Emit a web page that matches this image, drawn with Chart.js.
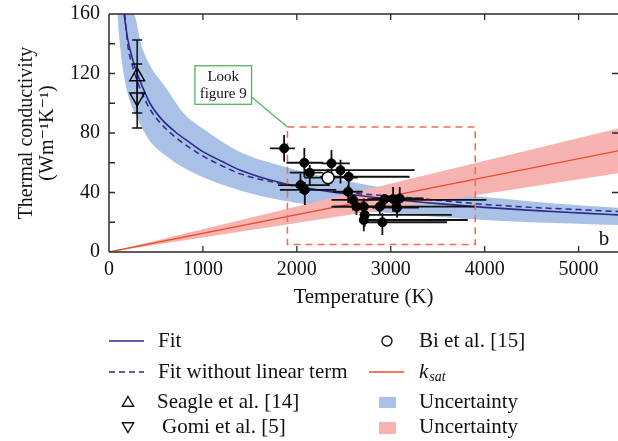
<!DOCTYPE html>
<html lang="en">
<head>
<meta charset="UTF-8">
<title>Thermal conductivity</title>
<script src="https://cdn.jsdelivr.net/npm/chart.js"></script>
<style>
  html, body { margin: 0; padding: 0; background: #fff; }
</style>
</head>
<body>
<canvas id="kChart" width="618" height="441"></canvas>
<script>
// fit (solid) and fit without linear term (dashed)
const fitT = [160, 200, 250, 300, 350, 436, 550, 700, 850, 1000, 1200, 1400, 1800, 2200, 2600, 3000, 3500, 4000, 4500, 5000, 5500];
const fitK = [160, 143, 130, 120, 112, 100, 90, 81, 74, 67.5, 61, 55, 47, 42, 38.5, 35.5, 32.5, 30, 28, 26.3, 24.7];
const dashT = [168, 200, 250, 300, 350, 436, 550, 700, 850, 1000, 1200, 1400, 1800, 2200, 2600, 3000, 3500, 4000, 4500, 5000, 5500];
const dashK = [160, 139, 125, 115, 107, 96, 86.5, 77.5, 70.5, 64.5, 58, 52.5, 46.3, 42, 39.5, 37.5, 34.8, 32, 30, 28.5, 27];

// fit uncertainty band edges (upper edge runs along the top of the frame below T = 260)
const bandLowT = [88, 120, 170, 230, 308, 430, 600, 800, 1128, 1500, 1820, 2500, 3000, 3500, 4000, 4500, 5000, 5500];
const bandLowK = [160, 137, 115, 100, 89, 75, 65, 56.5, 47, 39.5, 35, 29, 26, 23.5, 21.5, 20, 19, 18];
const bandHighT = [88, 260, 350, 450, 600, 800, 1000, 1400, 1800, 2500, 3000, 3500, 4000, 4500, 5000, 5500];
const bandHighK = [160, 160, 138, 124, 111, 93, 83, 67, 58.5, 48, 42.5, 39.5, 37, 34, 31.5, 29.5];

// k_sat and its uncertainty
const ksatT = [0, 5420];
const ksatK = [0, 68];
const ksatHighK = [0, 83];
const ksatLowK = [0, 53];

// measurements (filled circles)
const ptsT  = [1865, 2080, 2138, 2369, 2465, 2553, 2039, 2085, 2546, 2600, 2635, 2713, 2723, 2713, 2883, 2911, 2936, 3025, 3067, 3096];
const ptsK  = [69.7, 60, 53.3, 59.6, 55, 50.6, 45, 41.7, 40.5, 35, 30.5, 30.5, 24.9, 21.5, 30.5, 20, 35.6, 35.6, 29.8, 36];
const ptsTlo = [1713, 1890, 1925, 2263, 2085, 2250, 1800, 1820, 2385, 2369, 2400, 2369, 2670, 2688, 2700, 2700, 2750, 2800, 2800, 2850];
const ptsThi = [1979, 2280, 2277, 2564, 3255, 3200, 2350, 2420, 2700, 4018, 2900, 3890, 3650, 3820, 3100, 3600, 3150, 3300, 3300, 3350];
const ptsKlo = [60.7, 50.4, 45, 50.4, 46, 43, 39.7, 31.6, 33, 28, 24.9, 25, 17, 14, 25, 11.4, 30, 27, 23, 30];
const ptsKhi = [78.7, 70, 58.5, 68.6, 62, 55, 53, 47, 45, 38, 33.6, 36, 33, 29, 36, 26, 38, 43.7, 35, 43.7];

// Bi et al. [15]
const biT = [2333], biK = [50], biTlo = [2080], biThi = [2650], biKlo = [45], biKhi = [56];
// Seagle et al. [14] and Gomi et al. [5]
const seagleT = [300], seagleK = [118], seagleKlo = [93.4], seagleKhi = [142.5];
const gomiT = [300], gomiK = [104], gomiKlo = [83.4], gomiKhi = [126.4];

const xTicks = [0, 1000, 2000, 3000, 4000, 5000];
const yTicks = [0, 20, 40, 60, 80, 100, 120, 140, 160];
const yTickLabels = [0, 40, 80, 120, 160];

const pairs = (xs, ys) => xs.map((v, i) => ({ x: v, y: ys[i] }));
const SERIF = '"Liberation Serif", "DejaVu Serif", serif';

const ksatPoly = pairs(ksatT, ksatHighK).concat(pairs(ksatT, ksatLowK).reverse());

function bars(xs, ys, xl, xh, yl, yh) {
  return xs.map((v, i) => ({ x: v, y: ys[i], xl: xl ? xl[i] : null, xh: xh ? xh[i] : null, yl: yl[i], yh: yh[i] }));
}

// zoom box + annotation, in data units
const zoomBox = { x0: 1900, x1: 3900, y0: 5, y1: 84 };

const noPad = s => { s.paddingLeft = 0; s.paddingRight = 0; s.paddingTop = 0; s.paddingBottom = 0; };

const errorBars = {
  id: 'errorBars',
  beforeDatasetDraw(chart, args) {
    const ds = chart.data.datasets[args.index];
    const { ctx, chartArea: a, scales: { x, y } } = chart;
    if (ds.id === 'pts') {
      ctx.save();
      // dashed rectangle
      ctx.strokeStyle = '#f26b55';
      ctx.lineWidth = 1.6;
      ctx.setLineDash([7, 5]);
      const rx0 = x.getPixelForValue(zoomBox.x0), rx1 = x.getPixelForValue(zoomBox.x1);
      const ry0 = y.getPixelForValue(zoomBox.y1), ry1 = y.getPixelForValue(zoomBox.y0);
      ctx.strokeRect(rx0, ry0, rx1 - rx0, ry1 - ry0);
      ctx.setLineDash([]);
      // green note
      ctx.strokeStyle = '#52b45a';
      ctx.lineWidth = 1.3;
      const bx0 = x.getPixelForValue(915), bx1 = x.getPixelForValue(1518);
      const by0 = y.getPixelForValue(125.2), by1 = y.getPixelForValue(99.3);
      ctx.strokeRect(bx0, by0, bx1 - bx0, by1 - by0);
      ctx.beginPath();
      ctx.moveTo(bx1, y.getPixelForValue(104.2));
      ctx.lineTo(rx0, ry0);
      ctx.stroke();
      ctx.fillStyle = '#111';
      ctx.font = '15px ' + SERIF;
      ctx.textAlign = 'center';
      ctx.textBaseline = 'middle';
      ctx.fillText('Look', (bx0 + bx1) / 2, by0 + 11);
      ctx.fillText('figure 9', (bx0 + bx1) / 2, by0 + 28);
      ctx.restore();
    }
    if (!ds.bars) return;
    ctx.save();
    ctx.beginPath();
    ctx.rect(a.left, a.top, a.right - a.left, a.bottom - a.top);
    ctx.clip();
    ctx.strokeStyle = '#111';
    ctx.lineWidth = ds.barWidth || 1.6;
    ds.bars.forEach(b => {
      const px = x.getPixelForValue(b.x), py = y.getPixelForValue(b.y);
      ctx.beginPath();
      if (b.xl != null) {
        ctx.moveTo(x.getPixelForValue(b.xl), py);
        ctx.lineTo(x.getPixelForValue(b.xh), py);
      }
      const pyl = y.getPixelForValue(b.yl), pyh = y.getPixelForValue(b.yh);
      ctx.moveTo(px, pyl);
      ctx.lineTo(px, pyh);
      if (ds.cap) {
        ctx.moveTo(px - ds.cap, pyl); ctx.lineTo(px + ds.cap, pyl);
        ctx.moveTo(px - ds.cap, pyh); ctx.lineTo(px + ds.cap, pyh);
      }
      ctx.stroke();
    });
    ctx.restore();
  }
};

const frame = {
  id: 'frame',
  afterDatasetsDraw(chart) {
    const { ctx, chartArea: a, scales: { x, y } } = chart;
    ctx.save();
    ctx.strokeStyle = '#2b2b2b';
    ctx.lineWidth = 1.5;
    ctx.beginPath();
    ctx.moveTo(a.left, a.top); ctx.lineTo(a.right, a.top);
    ctx.moveTo(a.left, a.top); ctx.lineTo(a.left, a.bottom);
    ctx.moveTo(a.left, a.bottom); ctx.lineTo(a.right, a.bottom);
    ctx.stroke();
    ctx.lineWidth = 1.3;
    ctx.beginPath();
    xTicks.slice(1).forEach(v => {
      const px = x.getPixelForValue(v);
      ctx.moveTo(px, a.bottom); ctx.lineTo(px, a.bottom - 6);
      ctx.moveTo(px, a.top); ctx.lineTo(px, a.top + 6);
    });
    yTicks.slice(1, -1).forEach(v => {
      const py = y.getPixelForValue(v);
      ctx.moveTo(a.left, py); ctx.lineTo(a.left + 6, py);
      if (yTickLabels.includes(v)) { ctx.moveTo(a.right, py); ctx.lineTo(a.right - 6, py); }
    });
    ctx.stroke();
    ctx.fillStyle = '#111';
    ctx.font = '21px ' + SERIF;
    ctx.textAlign = 'center';
    ctx.textBaseline = 'middle';
    ctx.fillText('b', a.right - 14, a.bottom - 13);
    ctx.restore();
  }
};

const legendBox = {
  id: 'legendBox',
  afterDraw(chart) {
    const ctx = chart.ctx;
    ctx.save();
    ctx.font = '21px ' + SERIF;
    ctx.fillStyle = '#111';
    ctx.textBaseline = 'middle';
    ctx.textAlign = 'left';
    const rows = [341, 372, 402, 427];
    // Fit
    ctx.strokeStyle = '#2e2a8c'; ctx.lineWidth = 1.6;
    ctx.beginPath(); ctx.moveTo(109, rows[0]); ctx.lineTo(144, rows[0]); ctx.stroke();
    ctx.fillText('Fit', 158, rows[0]);
    ctx.setLineDash([6, 4]);
    ctx.beginPath(); ctx.moveTo(109, rows[1]); ctx.lineTo(144, rows[1]); ctx.stroke();
    ctx.setLineDash([]);
    ctx.fillText('Fit without linear term', 158, rows[1]);
    // triangles
    ctx.strokeStyle = '#111'; ctx.lineWidth = 1.4;
    const tri = (cx, cy, r, down) => {
      const s = down ? -1 : 1;
      ctx.beginPath();
      ctx.moveTo(cx, cy - s * r);
      ctx.lineTo(cx + r * 0.87, cy + s * r * 0.5);
      ctx.lineTo(cx - r * 0.87, cy + s * r * 0.5);
      ctx.closePath();
      ctx.stroke();
    };
    tri(128, rows[2] + 1, 6.5, false);
    ctx.fillText('Seagle et al. [14]', 157, rows[2]);
    tri(128, rows[3] - 1, 6.5, true);
    ctx.fillText('Gomi et al. [5]', 162, rows[3]);
    // column 2
    ctx.beginPath(); ctx.arc(387, rows[0], 5, 0, Math.PI * 2); ctx.stroke();
    ctx.fillText('Bi et al. [15]', 419, rows[0]);
    ctx.strokeStyle = '#ee4b2b'; ctx.lineWidth = 1.3;
    ctx.beginPath(); ctx.moveTo(369, rows[1]); ctx.lineTo(404, rows[1]); ctx.stroke();
    ctx.font = 'italic 21px ' + SERIF;
    ctx.fillText('k', 419, rows[1]);
    const kw = ctx.measureText('k').width;
    ctx.font = 'italic 14px ' + SERIF;
    ctx.fillText('sat', 419 + kw + 1, rows[1] + 5);
    ctx.font = '21px ' + SERIF;
    ctx.fillStyle = '#a9c1e6'; ctx.fillRect(379, 397, 17, 11);
    ctx.fillStyle = '#f6b3b0'; ctx.fillRect(379, 422, 17, 12);
    ctx.fillStyle = '#111';
    ctx.fillText('Uncertainty', 419, rows[2]);
    ctx.fillText('Uncertainty', 419, rows[3]);
    ctx.restore();
  }
};

new Chart(document.getElementById('kChart'), {
  type: 'scatter',
  data: {
    datasets: [
      { type: 'line', data: pairs(bandLowT, bandLowK), borderWidth: 0, pointRadius: 0, cubicInterpolationMode: 'monotone', fill: false, order: 11 },
      { type: 'line', data: pairs(bandHighT, bandHighK), fill: '-1', backgroundColor: '#a9c1e6', borderWidth: 0, pointRadius: 0, cubicInterpolationMode: 'monotone', order: 10 },
      { type: 'line', data: ksatPoly, fill: 'shape', backgroundColor: '#f6b3b0', borderWidth: 0, pointRadius: 0, tension: 0, order: 9 },
      { type: 'line', data: pairs(dashT, dashK), borderColor: '#2e2a8c', borderWidth: 1.5, borderDash: [6, 4], pointRadius: 0, cubicInterpolationMode: 'monotone', fill: false, order: 8 },
      { type: 'line', data: pairs(fitT, fitK), borderColor: '#2e2a8c', borderWidth: 1.6, pointRadius: 0, cubicInterpolationMode: 'monotone', fill: false, order: 7 },
      { type: 'line', data: pairs(ksatT, ksatK), borderColor: '#ee4b2b', borderWidth: 1.3, pointRadius: 0, fill: false, order: 6 },
      { id: 'pts', data: pairs(ptsT, ptsK), bars: bars(ptsT, ptsK, ptsTlo, ptsThi, ptsKlo, ptsKhi), barWidth: 1.8,
        pointStyle: 'circle', pointRadius: 4.5, backgroundColor: '#000', borderColor: '#000', borderWidth: 1, order: 4 },
      { data: pairs(biT, biK), bars: bars(biT, biK, biTlo, biThi, biKlo, biKhi), barWidth: 1.6,
        pointStyle: 'circle', pointRadius: 6, backgroundColor: '#fff', borderColor: '#000', borderWidth: 1.5, order: 3 },
      { data: pairs(seagleT, seagleK), bars: bars(seagleT, seagleK, null, null, seagleKlo, seagleKhi), barWidth: 1.5, cap: 5,
        pointStyle: 'triangle', pointRadius: 8.5, backgroundColor: 'rgba(255,255,255,0)', borderColor: '#000', borderWidth: 1.5, order: 2 },
      { data: pairs(gomiT, gomiK), bars: bars(gomiT, gomiK, null, null, gomiKlo, gomiKhi), barWidth: 1.5, cap: 5,
        pointStyle: 'triangle', rotation: 180, pointRadius: 8.5, backgroundColor: 'rgba(255,255,255,0)', borderColor: '#000', borderWidth: 1.5, order: 1 }
    ]
  },
  options: {
    responsive: false,
    animation: false,
    devicePixelRatio: 1,
    layout: { autoPadding: false, padding: { top: 14, right: 0, bottom: 131, left: 0 } },
    plugins: { legend: { display: false }, tooltip: { enabled: false } },
    scales: {
      x: {
        type: 'linear', min: 0, max: 5420,
        afterBuildTicks: s => { s.ticks = xTicks.map(v => ({ value: v })); },
        afterFit: s => { s.height = 58; noPad(s); },
        grid: { display: false, drawTicks: false },
        border: { display: false },
        ticks: { padding: 6, color: '#111', font: { family: SERIF, size: 20 }, maxRotation: 0, autoSkip: false,
          callback: v => String(v) },
        title: { display: true, text: 'Temperature (K)', color: '#111', padding: { top: 0, bottom: 0 }, font: { family: SERIF, size: 21, lineHeight: 1.2 } }
      },
      y: {
        min: 0, max: 160,
        afterBuildTicks: s => { s.ticks = yTicks.map(v => ({ value: v })); },
        afterFit: s => { s.width = 109; noPad(s); },
        grid: { display: false, drawTicks: false },
        border: { display: false },
        ticks: { padding: 9, color: '#111', font: { family: SERIF, size: 20 }, autoSkip: false,
          callback: v => yTickLabels.includes(v) ? String(v) : '' },
        title: { display: true, text: ['Thermal conductivity', '(Wm\u207B\u00B9K\u207B\u00B9)'], color: '#111',
          padding: { top: 16.5, bottom: 0 }, font: { family: SERIF, size: 20, lineHeight: 1.05 } }
      }
    }
  },
  plugins: [errorBars, frame, legendBox]
});
</script>
</body>
</html>
